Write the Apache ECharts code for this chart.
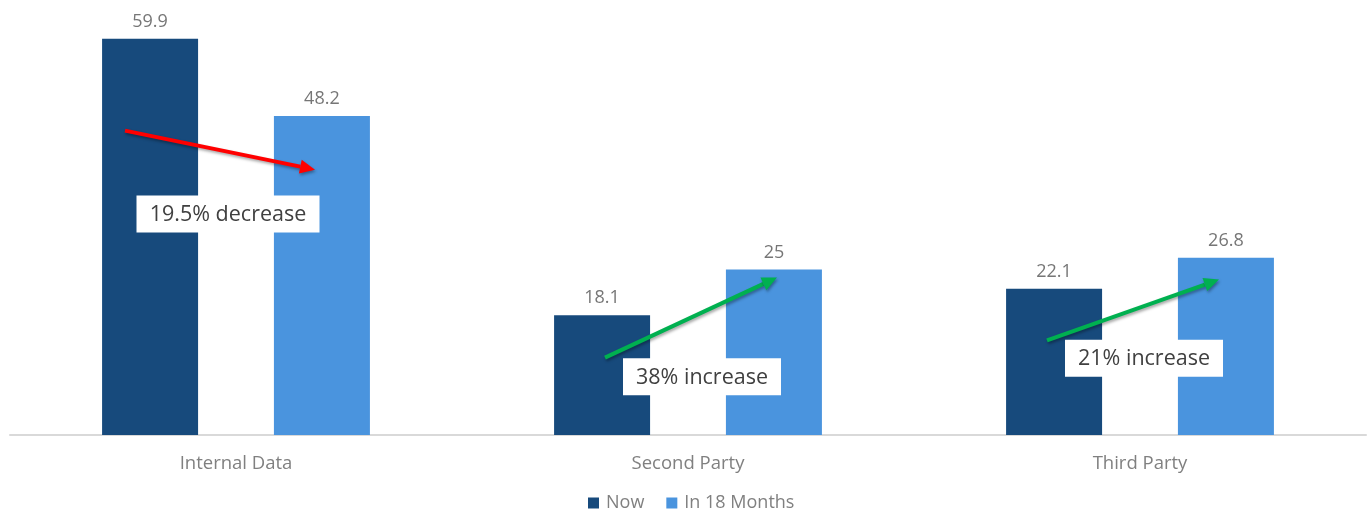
<!DOCTYPE html>
<html>
<head>
<meta charset="utf-8">
<script src="https://cdn.jsdelivr.net/npm/echarts@6/dist/echarts.min.js"></script>
<style>
html,body{margin:0;padding:0;background:#fff;}
#chart{width:1369px;height:510px;}
</style>
</head>
<body>
<div id="chart"></div>
<script>
const categories = ['Internal Data', 'Second Party', 'Third Party'];
const seriesNames = ['Now', 'In 18 Months'];
const nowValues = [59.9, 18.1, 22.1];
const futureValues = [48.2, 25, 26.8];
const annotationTexts = ['19.5% decrease', '38% increase', '21% increase'];
const arrowStartValues = [46.0, 11.7, 14.3];
const arrowEndValues = [40.1, 23.8, 23.5];
const annotationBoxValues = [33.4, 8.8, 11.6];
const arrowColors = ['#ff0000', '#00b050', '#00b050'];

const chart = echarts.init(document.getElementById('chart'));
const FONT = '"Open Sans", "Noto Sans", sans-serif';
chart.setOption({
  animation: false,
  backgroundColor: '#ffffff',
  grid: {left: 10, right: 3, top: 38, bottom: 75, containLabel: false},
  legend: {
    data: seriesNames, top: 489, left: 583,
    icon: 'rect', itemWidth: 11, itemHeight: 11, itemGap: 22,
    textStyle: {color: '#808080', fontSize: 18, fontFamily: FONT, padding: [0, 0, 0, 2]}
  },
  xAxis: {
    type: 'category', data: categories,
    axisLine: {show: true, lineStyle: {color: '#d9d9d9', width: 2}},
    axisTick: {show: false},
    axisLabel: {color: '#808080', fontSize: 18.5, fontFamily: FONT, margin: 19}
  },
  yAxis: {type: 'value', min: 0, max: 60, show: false, splitLine: {show: false}},
  series: [
    {name: seriesNames[0], type: 'bar', data: nowValues, barWidth: 96, barGap: '79%',
     itemStyle: {color: '#174a7c'},
     label: {show: true, position: 'top', distance: 8, color: '#767676', fontSize: 18, fontFamily: FONT}},
    {name: seriesNames[1], type: 'bar', data: futureValues, barWidth: 96,
     itemStyle: {color: '#4a94de'},
     label: {show: true, position: 'top', distance: 8, color: '#767676', fontSize: 18, fontFamily: FONT}}
  ]
});

// annotations positioned via the chart's own scales
const startDx = [-111, -83, -93];
const endDx = [79, 89, 79];
const boxDx = [-8, 14, 4];
const boxW = [183, 158, 158];
const graphics = [];
categories.forEach((c, i) => {
  const cx = chart.convertToPixel({xAxisIndex: 0}, c);
  const y1 = chart.convertToPixel({yAxisIndex: 0}, arrowStartValues[i]);
  const y2 = chart.convertToPixel({yAxisIndex: 0}, arrowEndValues[i]);
  const yb = chart.convertToPixel({yAxisIndex: 0}, annotationBoxValues[i]);
  const x1 = cx + startDx[i], x2 = cx + endDx[i];
  const ang = Math.atan2(y2 - y1, x2 - x1);
  const headL = 15, headW = 7;
  const bx = x2 - headL * Math.cos(ang), by = y2 - headL * Math.sin(ang);
  const px = -Math.sin(ang), py = Math.cos(ang);
  const color = arrowColors[i];
  const shadow = {shadowColor: 'rgba(0,0,0,0.35)', shadowBlur: 3, shadowOffsetX: 1, shadowOffsetY: 2};
  const bw = boxW[i], bh = 37;
  const bcx = cx + boxDx[i];
  graphics.push({
    type: 'rect', z: 100,
    shape: {x: bcx - bw / 2, y: yb - bh / 2, width: bw, height: bh},
    style: {fill: '#ffffff'}
  });
  graphics.push({
    type: 'text', z: 101, x: bcx, y: yb + 1,
    style: {text: annotationTexts[i], fill: '#404040', fontSize: 21.5, fontFamily: FONT,
            textAlign: 'center', textVerticalAlign: 'middle'}
  });
  graphics.push({
    type: 'line', z: 102,
    shape: {x1: x1, y1: y1, x2: bx, y2: by},
    style: Object.assign({stroke: color, lineWidth: 4}, shadow)
  });
  graphics.push({
    type: 'polygon', z: 103,
    shape: {points: [[x2, y2], [bx + px * headW, by + py * headW], [bx - px * headW, by - py * headW]]},
    style: Object.assign({fill: color}, shadow)
  });
});
chart.setOption({graphic: graphics});
</script>
</body>
</html>
